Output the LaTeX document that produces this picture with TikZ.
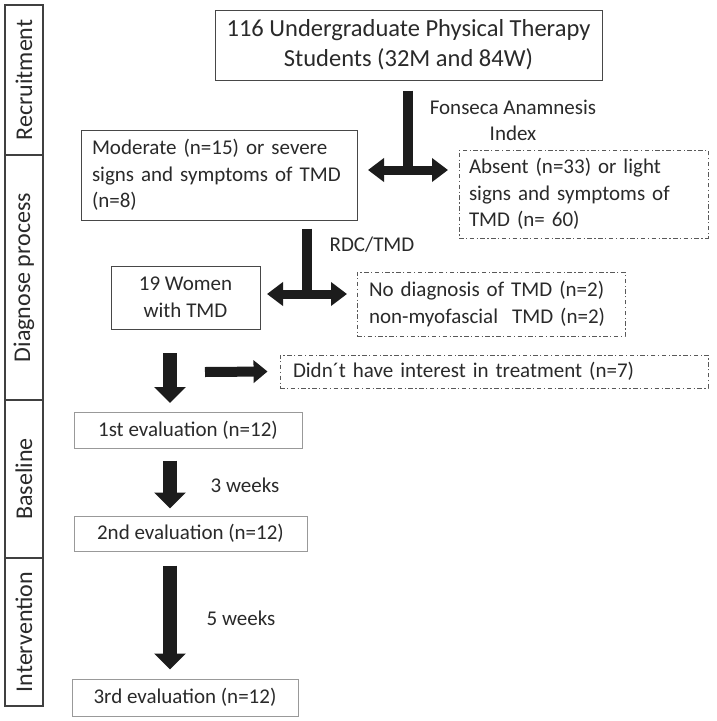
\documentclass[tikz,border=0pt]{standalone}
\usepackage{fontspec}
\setmainfont{Carlito}
\usetikzlibrary{arrows.meta}
\definecolor{txt}{HTML}{2A2A2A}
\definecolor{ink}{HTML}{1C1C1C}
\tikzset{
  basebox/.style={rectangle, text=txt, font=\fontsize{21}{26.5}\selectfont, inner sep=0pt, line width=1pt},
  solidbox/.style={basebox, draw=black!72},
  evalbox/.style={basebox, draw=black!40},
  dashbox/.style={basebox, draw=black!65, line width=0.9pt, dash pattern=on 4.5pt off 2.5pt on 1.2pt off 2.5pt},
  lanebox/.style={rectangle, draw=black!75, line width=1.2pt, text=txt, minimum width=38pt, font=\fontsize{24}{28}\selectfont, inner sep=0pt},
  note/.style={text=txt, font=\fontsize{21}{26}\selectfont, align=center, inner sep=0pt},
  stem/.style={draw=ink, line width=10pt},
  dblarrow/.style={draw=ink, line width=9pt, {Triangle[length=16pt,width=23pt]}-{Triangle[length=16pt,width=23pt]}},
  downarrow/.style={draw=ink, line width=14pt, -{Triangle[length=16pt,width=31pt]}},
  rightarrow/.style={draw=ink, line width=10pt, -{Triangle[length=14pt,width=22pt]}}
}
\begin{document}
\begin{tikzpicture}[x=1pt,y=-1pt]
\useasboundingbox (0,0) rectangle (716,721);
\fill[white] (0,0) rectangle (716,721);

% lane labels
\node[lanebox, minimum height=150pt] (lrec) at (24,80) {\rotatebox{90}{Recruitment}};
\node[lanebox, minimum height=245pt] (ldia) at (24,277.5) {\rotatebox{90}{Diagnose process}};
\node[lanebox, minimum height=158pt] (lbas) at (24,479) {\rotatebox{90}{Baseline}};
\node[lanebox, minimum height=148pt] (lint) at (24,632) {\rotatebox{90}{Intervention}};

% boxes
\node[solidbox, minimum width=387pt, minimum height=70pt, align=center, font=\fontsize{24.5}{30}\selectfont] (top) at (408.5,45)
  {116 Undergraduate Physical Therapy\\Students (32M and 84W)};
\node[solidbox, minimum width=276pt, minimum height=90pt, text width=254pt, align=left, inner xsep=11pt] (mod) at (219,175)
  {Moderate (n=15) or severe\\signs and symptoms of TMD\\(n=8)};
\node[dashbox, minimum width=249pt, minimum height=88pt, text width=229pt, align=left, inner xsep=10pt] (abs) at (583.5,194)
  {Absent (n=33) or light\\signs and symptoms of\\TMD (n= 60)};
\node[solidbox, minimum width=149pt, minimum height=63pt, align=center] (wom) at (185.5,297.5)
  {19 Women\\with TMD};
\node[dashbox, minimum width=268pt, minimum height=64pt, text width=244pt, align=left, inner xsep=12pt] (nod) at (491,304)
  {No diagnosis of TMD (n=2)\\non-myofascial\ \ TMD (n=2)};
\node[dashbox, minimum width=428pt, minimum height=33pt, text width=402pt, align=left, inner xsep=13pt] (int) at (494,371.5)
  {Didn´t have interest in treatment (n=7)};
\node[evalbox, minimum width=228pt, minimum height=36pt] (ev1) at (188,430) {1st evaluation (n=12)};
\node[evalbox, minimum width=233pt, minimum height=35pt] (ev2) at (190.5,533.5) {2nd evaluation (n=12)};
\node[evalbox, minimum width=226pt, minimum height=37pt] (ev3) at (185,697.5) {3rd evaluation (n=12)};

% annotations
\node[note] (fons) at (513,120) {Fonseca Anamnesis\\Index};
\node[note] (rdc) at (372,245) {RDC/TMD};
\node[note] (w3) at (245,485) {3 weeks};
\node[note] (w5) at (241,618) {5 weeks};

% T arrow 1
\coordinate (j1) at (408,170);
\coordinate (l1) at (368,170);
\coordinate (r1) at (448,170);
\draw[stem] ([yshift=-10pt]top.south -| j1) -- ([yshift=4pt]j1);
\draw[dblarrow] (l1) -- (r1);

% T arrow 2
\coordinate (j2) at (307,294);
\coordinate (l2) at (267,294);
\coordinate (r2) at (347,294);
\draw[stem] ([yshift=-8pt]mod.south -| j2) -- ([yshift=4pt]j2);
\draw[dblarrow] (l2) -- (r2);

% down / right arrows
\coordinate (d1s) at (170,353);
\coordinate (d1e) at (170,403);
\draw[downarrow] (d1s) -- (d1e);
\coordinate (r3s) at (205,372);
\draw[rightarrow] (r3s) -- ([xshift=-12pt]int.west);

\draw[downarrow] ([yshift=-12pt]ev1.south -| d1s) -- ([yshift=7pt]ev2.north -| d1s);
\draw[downarrow] ([yshift=-14pt]ev2.south -| d1s) -- ([yshift=9pt]ev3.north -| d1s);
\end{tikzpicture}
\end{document}
